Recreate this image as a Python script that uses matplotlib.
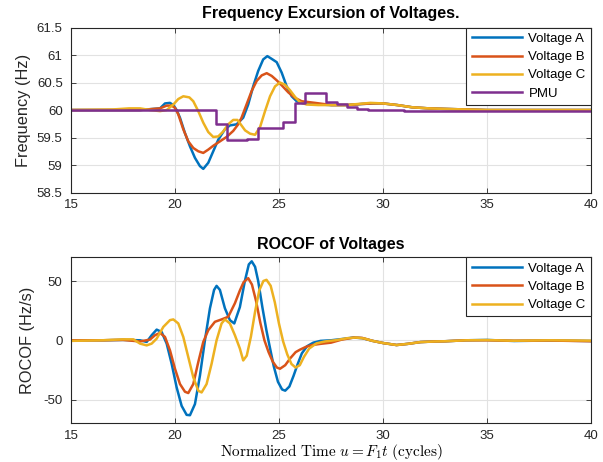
import numpy as np
import matplotlib.pyplot as plt
from matplotlib.ticker import FuncFormatter

plt.rcParams['font.family'] = ['Liberation Sans', 'DejaVu Sans']
plt.rcParams['mathtext.fontset'] = 'cm'
plt.rcParams['axes.unicode_minus'] = False

# colours (MATLAB defaults)
c_a, c_b, c_c, c_p = '#0072BD', '#D95319', '#EDB120', '#7E2F8E'

# ---- frequency excursion (Hz) ----
t_fa = [15, 18.3, 19.28, 19.52, 19.76, 19.92, 20.08, 20.24, 20.48, 20.72, 20.96, 21.2, 21.36,
        21.6, 21.84, 22.08, 22.4, 22.64, 22.96, 23.28, 23.52, 23.76, 24.0, 24.24, 24.44, 24.65,
        24.89, 25.13, 25.37, 25.61, 25.85, 26.09, 26.5, 27.0, 27.5, 28.25, 29.0, 29.5, 30.0,
        30.7, 31.4, 32.2, 33.0, 34.0, 35.0, 37.0, 40.0]
f_a = [60, 60, 60.03, 60.12, 60.13, 60.09, 60.0, 59.86, 59.58, 59.34, 59.13, 58.98, 58.93,
       59.04, 59.25, 59.46, 59.65, 59.72, 59.74, 59.86, 60.1, 60.43, 60.71, 60.92, 60.98, 60.93,
       60.87, 60.68, 60.43, 60.25, 60.16, 60.13, 60.11, 60.1, 60.09, 60.09, 60.11, 60.12, 60.12,
       60.09, 60.05, 60.03, 60.02, 60.01, 60.0, 60.0, 60.0]

t_fb = [15, 18.3, 19.28, 19.6, 19.84, 20.0, 20.16, 20.4, 20.64, 20.88, 21.12, 21.36, 21.6,
        21.84, 22.16, 22.48, 22.8, 23.04, 23.2, 23.44, 23.69, 23.93, 24.17, 24.41, 24.65, 24.89,
        25.13, 25.45, 25.77, 26.09, 26.73, 27.53, 28.25, 29.0, 29.5, 30.0, 30.7, 31.4, 32.2,
        33.0, 34.0, 35.0, 37.0, 40.0]
f_b = [60, 60, 60.03, 60.08, 60.08, 60.04, 59.92, 59.65, 59.43, 59.31, 59.25, 59.22, 59.28,
       59.35, 59.43, 59.51, 59.62, 59.74, 59.86, 60.1, 60.35, 60.53, 60.63, 60.67, 60.62, 60.54,
       60.45, 60.32, 60.22, 60.16, 60.13, 60.09, 60.09, 60.11, 60.12, 60.12, 60.09, 60.05, 60.03,
       60.02, 60.01, 60.0, 60.0, 60.0]

t_fc = [15, 17.0, 17.8, 18.32, 18.8, 19.28, 19.6, 19.92, 20.16, 20.4, 20.69, 20.88, 21.12,
        21.36, 21.6, 21.84, 22.08, 22.32, 22.56, 22.8, 23.0, 23.12, 23.37, 23.61, 23.85, 24.09,
        24.33, 24.57, 24.81, 25.05, 25.29, 25.53, 25.77, 26.01, 26.33, 26.89, 27.5, 28.25, 28.8,
        29.4, 30.0, 30.7, 31.4, 32.2, 33.0, 34.0, 35.0, 37.0, 40.0]
f_c = [60, 60.01, 60.03, 60.03, 60.0, 59.98, 60.0, 60.1, 60.2, 60.25, 60.23, 60.16, 59.98,
       59.77, 59.6, 59.51, 59.52, 59.61, 59.74, 59.82, 59.82, 59.76, 59.63, 59.57, 59.55, 59.69,
       59.98, 60.25, 60.43, 60.5, 60.46, 60.36, 60.24, 60.14, 60.1, 60.09, 60.09, 60.09, 60.11,
       60.13, 60.12, 60.09, 60.05, 60.03, 60.02, 60.01, 60.0, 60.0, 60.0]

pmu_edges = [15, 21.97, 22.48, 23.44, 24.0, 25.2, 25.77, 26.25, 27.26, 27.77, 28.25, 28.73,
             29.3, 31.0, 40]
pmu_vals = [60.0, 59.75, 59.45, 59.48, 59.67, 59.79, 60.13, 60.31, 60.15, 60.11, 60.06, 60.02,
            60.0, 59.99]

# ---- ROCOF (Hz/s) ----
t_ra = [15, 16.5, 17.5, 18.32, 18.64, 18.88, 19.12, 19.36, 19.6, 19.84, 20.08, 20.32, 20.56,
        20.72, 20.96, 21.2, 21.44, 21.68, 21.88, 22.0, 22.16, 22.4, 22.64, 22.85, 23.12, 23.36,
        23.55, 23.69, 23.85, 24.0, 24.2, 24.4, 24.55, 24.75, 24.95, 25.15, 25.3, 25.5, 25.7,
        25.9, 26.1, 26.35, 26.65, 27.0, 27.5, 28.0, 28.57, 29.0, 29.5, 30.0, 30.65, 31.2, 31.8,
        32.5, 33.0, 34.0, 35.0, 36.3, 38.0, 40.0]
r_a = [0, 0, 0.3, 0, -1.4, 4.3, 9, 7, -2.8, -19.8, -39.7, -55.3, -62.9, -63.2, -53.8, -29.8,
       0, 26.9, 42.5, 45.9, 42.5, 27, 17, 14.2, 28, 50, 64, 66.6, 62, 50, 28, 8, -5, -22, -35,
       -41.5, -42.5, -39, -30, -20, -11, -5, -2, -0.5, 0, 1, 2.3, 1.8, -0.5, -2.3, -4, -3, -1.5,
       -1, -0.8, 0, 0.3, -0.6, -0.2, -0.6]

t_rb = [15, 16.5, 17.5, 18.32, 18.8, 19.04, 19.28, 19.52, 19.76, 20.0, 20.24, 20.48, 20.64,
        20.88, 21.12, 21.36, 21.6, 21.92, 22.24, 22.56, 22.88, 23.12, 23.3, 23.52, 23.7, 23.9,
        24.1, 24.3, 24.5, 24.7, 24.9, 25.05, 25.3, 25.55, 25.8, 26.0, 26.3, 26.6, 27.0, 27.5,
        28.0, 28.6, 29.0, 29.5, 30.0, 30.65, 31.2, 31.8, 32.5, 33.0, 34.0, 35.0, 36.3, 38.0, 40.0]
r_b = [0, 0, 0.3, -1, 0.6, 4.3, 6.2, 2.8, -8.5, -24, -36.9, -43.4, -44.5, -36.9, -18.4, -1.4,
       8.5, 15.6, 17.6, 19.8, 31.2, 42, 49, 52.4, 47, 33, 15, 0, -10, -18, -23, -24, -21, -15,
       -10, -8, -5.5, -4, -3, -2, 0.5, 2.3, 2, -0.5, -2.3, -4, -3, -1.5, -1, -0.8, 0, 0, -0.4,
       -0.2, -0.8]

t_rc = [15, 16.5, 17.5, 18.0, 18.32, 18.64, 18.88, 19.12, 19.44, 19.76, 19.92, 20.16, 20.4,
        20.64, 20.88, 21.12, 21.28, 21.52, 21.76, 22.0, 22.24, 22.4, 22.64, 22.88, 23.12, 23.28,
        23.45, 23.65, 23.85, 24.05, 24.25, 24.4, 24.6, 24.8, 25.0, 25.2, 25.4, 25.6, 25.8, 26.0,
        26.2, 26.45, 26.8, 27.2, 27.7, 28.3, 28.7, 29.1, 29.5, 30.0, 30.65, 31.2, 31.8, 32.5,
        33.0, 34.0, 35.0, 36.3, 38.0, 40.0]
r_c = [-0.5, 0, 0.8, 0.8, -2.8, -4.3, -2.8, 1.4, 11.3, 17, 17.6, 14.2, 2.8, -14.2, -31.2,
       -42.5, -44, -36.9, -19.8, 0, 14.2, 17.6, 14.2, 4.3, -7, -17, -13, 3, 24, 42, 50, 51, 46,
       32, 14, -1, -12, -20, -23, -21, -14, -7, -2.6, -1, 0, 1.8, 2.3, 1.5, -0.5, -2.3, -4, -3,
       -1.5, -1, -0.8, 0, 0.2, -0.4, 0, -0.3]

fig = plt.figure(figsize=(6.03, 4.62), dpi=100)
ax1 = fig.add_axes([0.1177, 0.5833, 0.8624, 0.3571])
ax2 = fig.add_axes([0.1177, 0.0838, 0.8624, 0.3593])

lw = 1.8
ax1.plot(t_fa, f_a, color=c_a, lw=lw, label='Voltage A')
ax1.plot(t_fb, f_b, color=c_b, lw=lw, label='Voltage B')
ax1.plot(t_fc, f_c, color=c_c, lw=lw, label='Voltage C')
ax1.step(pmu_edges, pmu_vals + [pmu_vals[-1]], where='post', color=c_p, lw=lw, label='PMU')

ax2.plot(t_ra, r_a, color=c_a, lw=lw, label='Voltage A')
ax2.plot(t_rb, r_b, color=c_b, lw=lw, label='Voltage B')
ax2.plot(t_rc, r_c, color=c_c, lw=lw, label='Voltage C')

ax1.set_ylim(58.5, 61.5)
ax1.set_yticks(np.arange(58.5, 61.6, 0.5))
ax1.yaxis.set_major_formatter(FuncFormatter(lambda v, p: '%g' % v))
ax2.set_ylim(-70, 70)
ax2.set_yticks([-50, 0, 50])

for ax in (ax1, ax2):
    ax.set_xlim(15, 40)
    ax.set_xticks(range(15, 41, 5))
    ax.grid(True, color='#e2e2e2', lw=0.8)
    ax.set_axisbelow(True)
    ax.tick_params(direction='in', top=True, right=True, labelsize=9.5,
                   colors='#262626', length=3.5, width=0.6)
    ax.tick_params(axis='y', pad=6)
    ax.tick_params(axis='x', pad=5)
    for s in ax.spines.values():
        s.set_color('#262626')
        s.set_linewidth(0.8)
    leg = ax.legend(loc='upper right', borderaxespad=0, fancybox=False, framealpha=1,
                    edgecolor='#262626', fontsize=9.5, handlelength=3.8,
                    labelspacing=0.45, borderpad=0.4, handletextpad=0.5)
    leg.get_frame().set_linewidth(0.8)

ax1.set_title('Frequency Excursion of Voltages.', fontsize=11.5, fontweight='bold', pad=7)
ax2.set_title('ROCOF of Voltages', fontsize=11.5, fontweight='bold', pad=6)
ax1.set_ylabel('Frequency (Hz)', fontsize=11.8, color='#262626', labelpad=4)
ax2.set_ylabel('ROCOF (Hz/s)', fontsize=11.8, color='#262626', labelpad=6)
ax2.set_xlabel(r'$\mathrm{Normalized\ Time}\ u = F_1 t\ \mathrm{(cycles)}$', fontsize=11,
               labelpad=0)

fig.savefig('out.png', dpi=100)
